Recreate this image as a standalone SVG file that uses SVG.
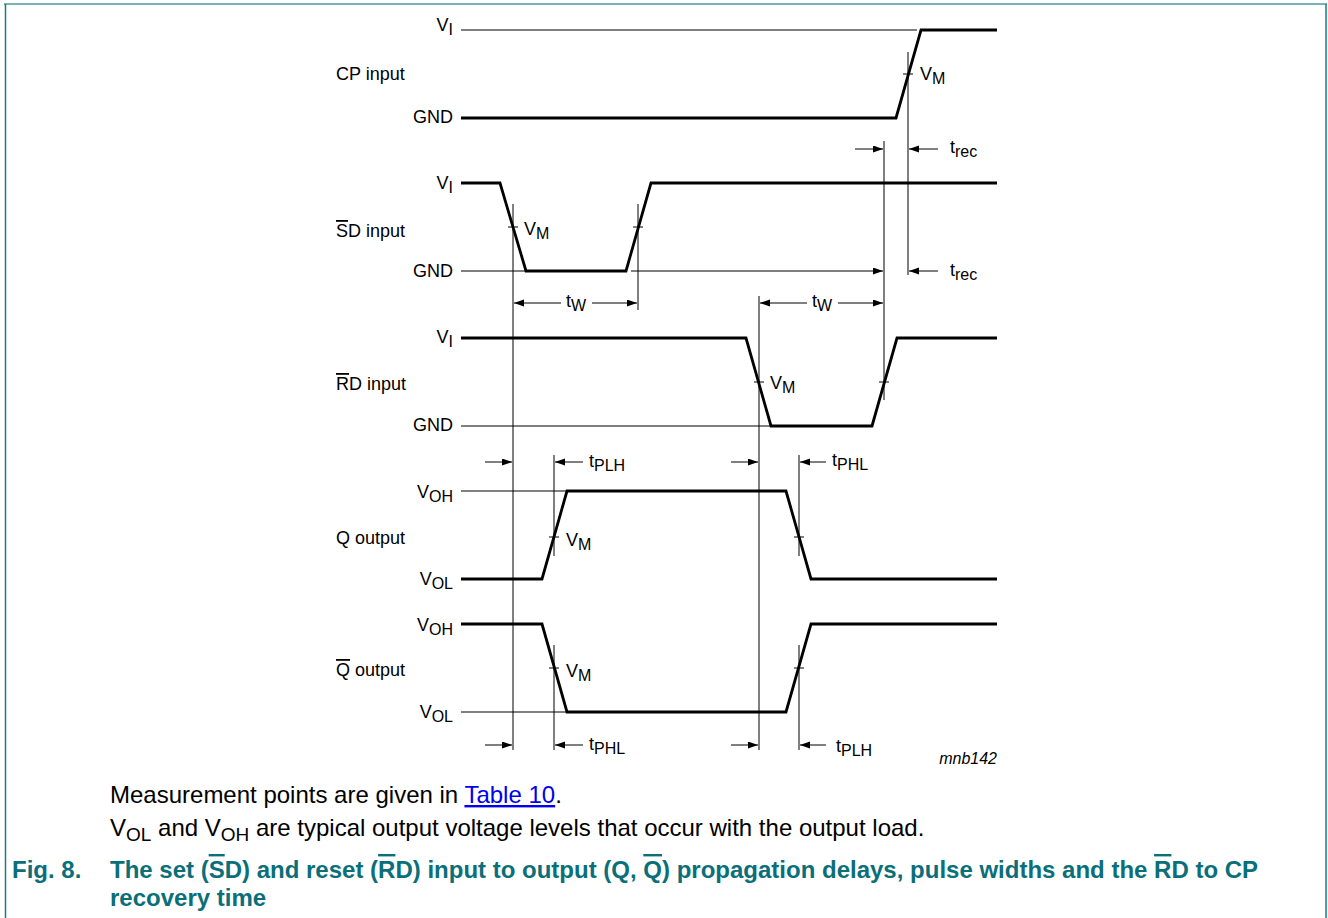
<svg xmlns="http://www.w3.org/2000/svg" width="1328" height="918" viewBox="0 0 1328 918">
<style>
.thin{stroke:#000;stroke-width:1;fill:none}
.thick{stroke:#000;stroke-width:2.8;fill:none;stroke-linejoin:miter}
.arr{stroke:#000;stroke-width:1;fill:none;marker-end:url(#ah)}
text{font-family:"Liberation Sans",Arial,sans-serif;fill:#000}
.lbl{font-size:18px}
.sub{font-size:16px}
.cap{font-size:24px}
.fig{font-size:24px;font-weight:bold;fill:#0a6f78}
.ov{text-decoration:overline}
</style>
<defs>
<marker id="ah" markerUnits="userSpaceOnUse" markerWidth="11" markerHeight="8" refX="10" refY="3.5" orient="auto">
<path d="M0,0 L10,3.5 L0,7 z" fill="#000"/>
</marker>
</defs>
<rect width="1328" height="918" fill="#fff"/>
<g id="frame">
<line x1="4" y1="4" x2="1327" y2="4" stroke="#7ab3b5" stroke-width="2"/>
<line x1="5.5" y1="4" x2="5.5" y2="918" stroke="#1f7a80" stroke-width="1.5"/>
<line x1="1326" y1="4" x2="1326" y2="918" stroke="#1f7a80" stroke-width="1.5"/>
</g>
<g id="cp-input">
<text class="lbl" x="453" y="31" text-anchor="end">V<tspan class="sub" dy="4">I</tspan></text>
<text class="lbl" x="336" y="80">CP input</text>
<text class="lbl" x="453" y="123" text-anchor="end">GND</text>
<line class="thin" x1="461" y1="30" x2="917" y2="30"/>
<polyline class="thick" points="461,118 896,118 921,30 997,30"/>
<line class="thin" x1="903" y1="74" x2="913" y2="74"/>
<text class="lbl" x="920" y="80">V<tspan class="sub" dy="4">M</tspan></text>
<text class="lbl" x="950" y="153">t<tspan class="sub" dy="4">rec</tspan></text>
</g>
<g id="sd-input">
<text class="lbl" x="453" y="189" text-anchor="end">V<tspan class="sub" dy="4">I</tspan></text>
<text class="lbl" x="336" y="237"><tspan class="ov">S</tspan>D input</text>
<text class="lbl" x="453" y="277" text-anchor="end">GND</text>
<line class="thin" x1="461" y1="271" x2="526" y2="271"/>
<polyline class="thick" points="461,183 500,183 526,271 626,271 651,183 997,183"/>
<line class="thin" x1="508" y1="227" x2="518" y2="227"/>
<line class="thin" x1="633" y1="227" x2="643" y2="227"/>
<text class="lbl" x="524" y="235">V<tspan class="sub" dy="4">M</tspan></text>
<text class="lbl" x="566" y="307">t<tspan class="sub" dy="4">W</tspan></text>
<text class="lbl" x="812" y="307">t<tspan class="sub" dy="4">W</tspan></text>
<text class="lbl" x="950" y="276">t<tspan class="sub" dy="4">rec</tspan></text>
</g>
<g id="rd-input">
<text class="lbl" x="453" y="343" text-anchor="end">V<tspan class="sub" dy="4">I</tspan></text>
<text class="lbl" x="336" y="390"><tspan class="ov">R</tspan>D input</text>
<text class="lbl" x="453" y="431" text-anchor="end">GND</text>
<line class="thin" x1="461" y1="426" x2="771" y2="426"/>
<polyline class="thick" points="461,338 746,338 771,426 872,426 897,338 997,338"/>
<line class="thin" x1="754" y1="382" x2="764" y2="382"/>
<line class="thin" x1="879" y1="382" x2="889" y2="382"/>
<text class="lbl" x="770" y="389">V<tspan class="sub" dy="4">M</tspan></text>
</g>
<g id="q-output">
<text class="lbl" x="589" y="467">t<tspan class="sub" dy="4">PLH</tspan></text>
<text class="lbl" x="832" y="466">t<tspan class="sub" dy="4">PHL</tspan></text>
<text class="lbl" x="453" y="498" text-anchor="end">V<tspan class="sub" dy="4">OH</tspan></text>
<text class="lbl" x="336" y="544">Q output</text>
<text class="lbl" x="453" y="585" text-anchor="end">V<tspan class="sub" dy="4">OL</tspan></text>
<line class="thin" x1="461" y1="491" x2="567" y2="491"/>
<polyline class="thick" points="461,579 542,579 567,491 786,491 811,579 997,579"/>
<line class="thin" x1="549" y1="537" x2="559" y2="537"/>
<line class="thin" x1="794" y1="537" x2="804" y2="537"/>
<text class="lbl" x="566" y="546">V<tspan class="sub" dy="4">M</tspan></text>
</g>
<g id="qbar-output">
<text class="lbl" x="453" y="631" text-anchor="end">V<tspan class="sub" dy="4">OH</tspan></text>
<text class="lbl" x="336" y="676"><tspan class="ov">Q</tspan> output</text>
<text class="lbl" x="453" y="718" text-anchor="end">V<tspan class="sub" dy="4">OL</tspan></text>
<line class="thin" x1="461" y1="712" x2="567" y2="712"/>
<polyline class="thick" points="461,624 542,624 567,712 786,712 811,624 997,624"/>
<line class="thin" x1="549" y1="668" x2="559" y2="668"/>
<line class="thin" x1="794" y1="668" x2="804" y2="668"/>
<text class="lbl" x="566" y="677">V<tspan class="sub" dy="4">M</tspan></text>
<text class="lbl" x="589" y="750">t<tspan class="sub" dy="4">PHL</tspan></text>
<text class="lbl" x="836" y="752">t<tspan class="sub" dy="4">PLH</tspan></text>
<text x="997" y="764" text-anchor="end" font-size="16" font-style="italic">mnb142</text>
</g>
<g id="connectors">
<line class="thin" x1="908" y1="52" x2="908" y2="275"/>
<line class="thin" x1="884" y1="141" x2="884" y2="400"/>
<line class="thin" x1="513" y1="204" x2="513" y2="750"/>
<line class="thin" x1="638" y1="204" x2="638" y2="310"/>
<line class="thin" x1="759" y1="296" x2="759" y2="750"/>
<line class="thin" x1="554" y1="455" x2="554" y2="556"/>
<line class="thin" x1="554" y1="645" x2="554" y2="750"/>
<line class="thin" x1="799" y1="455" x2="799" y2="556"/>
<line class="thin" x1="799" y1="645" x2="799" y2="750"/>
<line class="arr" x1="855" y1="149" x2="883" y2="149"/>
<line class="arr" x1="938" y1="149" x2="909" y2="149"/>
<line class="arr" x1="631" y1="271" x2="883" y2="271"/>
<line class="arr" x1="938" y1="271" x2="909" y2="271"/>
<line class="arr" x1="561" y1="303" x2="514" y2="303"/>
<line class="arr" x1="592" y1="303" x2="637" y2="303"/>
<line class="arr" x1="807" y1="303" x2="760" y2="303"/>
<line class="arr" x1="838" y1="303" x2="883" y2="303"/>
<line class="arr" x1="485" y1="462" x2="512" y2="462"/>
<line class="arr" x1="583" y1="462" x2="555" y2="462"/>
<line class="arr" x1="731" y1="462" x2="758" y2="462"/>
<line class="arr" x1="826" y1="462" x2="800" y2="462"/>
<line class="arr" x1="485" y1="745" x2="512" y2="745"/>
<line class="arr" x1="583" y1="745" x2="555" y2="745"/>
<line class="arr" x1="731" y1="745" x2="758" y2="745"/>
<line class="arr" x1="826" y1="745" x2="800" y2="745"/>
</g>
<g id="caption">
<text class="cap" x="110" y="803">Measurement points are given in <tspan fill="#0000ee" style="text-decoration:underline">Table 10</tspan>.</text>
<text class="cap" x="110" y="836">V<tspan font-size="19" dy="5">OL</tspan><tspan dy="-5"> and V</tspan><tspan font-size="19" dy="5">OH</tspan><tspan dy="-5"> are typical output voltage levels that occur with the output load.</tspan></text>
<text class="fig" x="12" y="878">Fig. 8.</text>
<text class="fig" x="110" y="878">The set (<tspan class="ov">S</tspan>D) and reset (<tspan class="ov">R</tspan>D) input to output (Q, <tspan class="ov">Q</tspan>) propagation delays, pulse widths and the <tspan class="ov">R</tspan>D to CP</text>
<text class="fig" x="110" y="906">recovery time</text>
</g>
</svg>
